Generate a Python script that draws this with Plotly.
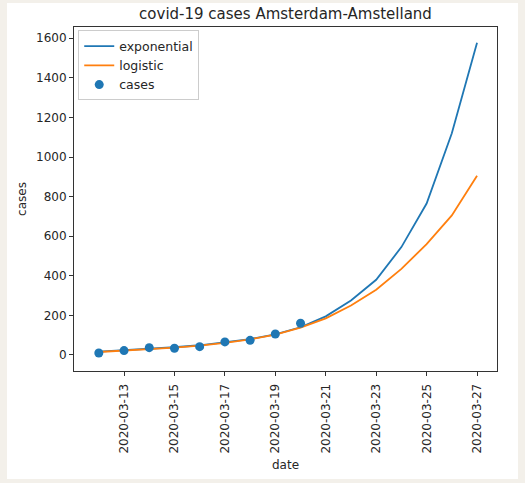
import plotly.graph_objects as go

dates = ["2020-03-12", "2020-03-13", "2020-03-14", "2020-03-15", "2020-03-16",
         "2020-03-17", "2020-03-18", "2020-03-19", "2020-03-20", "2020-03-21",
         "2020-03-22", "2020-03-23", "2020-03-24", "2020-03-25", "2020-03-26",
         "2020-03-27"]
exponential = [17, 24, 31, 39, 49, 63, 80, 104, 140, 195, 275, 380, 545, 765, 1120, 1577]
logistic = [15, 22, 29, 37, 47, 61, 79, 103, 138, 185, 250, 330, 435, 560, 705, 905]
case_dates = dates[:9]
cases = [10, 22, 37, 34, 42, 66, 74, 106, 160]
tick_dates = ["2020-03-13", "2020-03-15", "2020-03-17", "2020-03-19",
              "2020-03-21", "2020-03-23", "2020-03-25", "2020-03-27"]
y_ticks = [0, 200, 400, 600, 800, 1000, 1200, 1400, 1600]

FONT = "DejaVu Sans"
TXT = "#262626"

fig = go.Figure()
fig.add_trace(go.Scatter(x=dates, y=exponential, mode="lines", name="exponential",
                         line=dict(color="#1f77b4", width=1.8)))
fig.add_trace(go.Scatter(x=dates, y=logistic, mode="lines", name="logistic",
                         line=dict(color="#ff7f0e", width=1.8)))
fig.add_trace(go.Scatter(x=case_dates, y=cases, mode="markers", name="cases",
                         marker=dict(color="#1f77b4", size=9)))

L, R, T, B = 74, 497, 27, 371
W, H = 525, 483
pw, ph = R - L, B - T

fig.add_shape(type="rect", xref="paper", yref="paper", layer="below",
              x0=(7 - L) / pw, x1=(518 - L) / pw,
              y0=(B - 479) / ph, y1=(B - 3) / ph,
              fillcolor="white", line=dict(width=0))

fig.update_layout(
    width=W, height=H,
    margin=dict(l=L, r=W - R, t=T, b=H - B, pad=0),
    paper_bgcolor="#f3f0ea", plot_bgcolor="white",
    font=dict(family=FONT, color=TXT, size=12),
    title=dict(text="covid-19 cases Amsterdam-Amstelland", x=(L + R) / 2 / W, xanchor="center",
               y=1 - 14 / H, yanchor="middle", font=dict(size=15, color=TXT)),
    showlegend=True,
    legend=dict(x=0.01, y=0.99, xanchor="left", yanchor="top",
                bgcolor="white", bordercolor="#cccccc", borderwidth=1,
                font=dict(size=12.5, color=TXT), tracegroupgap=0),
    xaxis=dict(type="date", range=["2020-03-11 00:23", "2020-03-27 19:00"],
               tickvals=tick_dates, ticktext=tick_dates, tickangle=-90,
               showgrid=False, zeroline=False, showline=True, mirror=True,
               linecolor="#333333", linewidth=1, ticks="outside", ticklen=4,
               tickcolor="#333333", tickfont=dict(size=12), ticklabelstandoff=3,
               title=dict(text="date", font=dict(size=12), standoff=8)),
    yaxis=dict(range=[-81, 1657], tickvals=y_ticks,
               showgrid=False, zeroline=False, showline=True, mirror=True,
               linecolor="#333333", linewidth=1, ticks="outside", ticklen=4,
               tickcolor="#333333", tickfont=dict(size=12),
               title=dict(text="cases", font=dict(size=12), standoff=6)),
)

fig.write_html("out.html", config={"displayModeBar": False},
               post_script="document.body.style.margin='0';document.body.style.overflow='hidden';")
